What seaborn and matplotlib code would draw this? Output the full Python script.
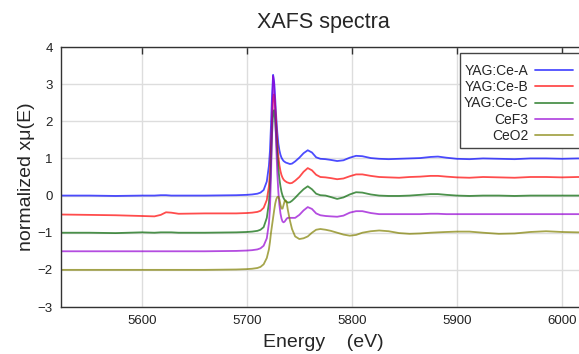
import pandas as pd
import numpy as np
import matplotlib
matplotlib.use("Agg")
import matplotlib.pyplot as plt
import matplotlib.patches as mpatches
import seaborn as sns

# energy grid (eV), shared by all spectra
energy = [5523, 5550, 5575, 5600, 5612, 5618, 5623, 5628, 5635, 5660, 5690, 5700,
          5705, 5710, 5713, 5716, 5719, 5721, 5722, 5723, 5724, 5725, 5726, 5727,
          5728, 5729, 5730, 5731, 5732, 5733, 5734, 5735, 5736, 5737, 5738, 5739,
          5741, 5743, 5746, 5750, 5754, 5758, 5762, 5766, 5770, 5775, 5780, 5786,
          5792, 5798, 5804, 5810, 5818, 5826, 5835, 5845, 5855, 5865, 5875, 5882,
          5890, 5900, 5912, 5925, 5940, 5955, 5970, 5985, 6000, 6015, 6023]

yag_a = [0.00, 0.00, -0.01, 0.00, 0.00, 0.01, 0.01, 0.00, 0.00, 0.00, 0.01, 0.02,
         0.03, 0.05, 0.08, 0.15, 0.38, 0.80, 1.20, 1.90, 2.70, 3.25, 3.05, 2.60,
         2.10, 1.70, 1.40, 1.22, 1.10, 1.02, 0.97, 0.93, 0.91, 0.89, 0.88, 0.87,
         0.85, 0.86, 0.92, 1.02, 1.14, 1.22, 1.16, 1.03, 0.99, 0.98, 0.96, 0.93,
         0.95, 1.02, 1.07, 1.06, 1.01, 0.99, 0.98, 0.99, 1.00, 1.01, 1.04, 1.05,
         1.02, 0.99, 0.98, 1.00, 0.99, 0.98, 1.00, 1.00, 0.99, 1.00, 1.00]

yag_b = [-0.51, -0.52, -0.53, -0.55, -0.56, -0.52, -0.45, -0.46, -0.49, -0.48, -0.48, -0.47,
         -0.46, -0.44, -0.41, -0.33, -0.12, 0.25, 0.60, 1.25, 2.05, 2.65, 2.72, 2.40,
         1.90, 1.40, 1.05, 0.82, 0.66, 0.55, 0.48, 0.43, 0.40, 0.38, 0.36, 0.35,
         0.33, 0.34, 0.40, 0.50, 0.64, 0.74, 0.68, 0.56, 0.50, 0.49, 0.47, 0.44,
         0.46, 0.52, 0.57, 0.57, 0.53, 0.50, 0.49, 0.48, 0.50, 0.51, 0.53, 0.53,
         0.51, 0.49, 0.48, 0.50, 0.49, 0.48, 0.50, 0.50, 0.49, 0.50, 0.50]

yag_c = [-1.00, -1.00, -1.01, -0.99, -1.00, -0.99, -0.99, -0.99, -1.00, -1.00, -0.99, -0.98,
         -0.97, -0.95, -0.92, -0.85, -0.60, -0.20, 0.20, 0.85, 1.65, 2.25, 2.30, 2.00,
         1.55, 1.10, 0.72, 0.45, 0.25, 0.10, 0.00, -0.07, -0.12, -0.15, -0.17, -0.19,
         -0.18, -0.14, -0.06, 0.06, 0.17, 0.25, 0.17, 0.05, 0.01, 0.00, -0.04, -0.09,
         -0.05, 0.03, 0.09, 0.08, 0.03, 0.00, -0.01, -0.01, 0.00, 0.02, 0.04, 0.04,
         0.02, 0.00, -0.01, 0.00, 0.00, -0.01, 0.00, 0.00, 0.00, 0.00, 0.00]

cef3 = [-1.50, -1.50, -1.50, -1.50, -1.50, -1.50, -1.50, -1.50, -1.50, -1.50, -1.49, -1.48,
        -1.47, -1.45, -1.42, -1.35, -1.15, -0.75, -0.35, 0.50, 1.90, 3.22, 3.00, 2.20,
        1.30, 0.60, 0.10, -0.25, -0.48, -0.62, -0.70, -0.72, -0.70, -0.66, -0.62, -0.60,
        -0.60, -0.60, -0.60, -0.52, -0.40, -0.31, -0.36, -0.48, -0.53, -0.55, -0.56, -0.57,
        -0.54, -0.46, -0.42, -0.42, -0.47, -0.50, -0.50, -0.50, -0.50, -0.50, -0.49, -0.49,
        -0.50, -0.50, -0.50, -0.50, -0.50, -0.50, -0.50, -0.50, -0.50, -0.50, -0.50]

ceo2 = [-2.00, -2.00, -2.00, -2.00, -2.00, -2.00, -2.00, -2.00, -2.00, -2.00, -1.99, -1.98,
        -1.97, -1.95, -1.92, -1.85, -1.68, -1.45, -1.25, -1.00, -0.80, -0.60, -0.40, -0.22,
        -0.10, -0.04, -0.03, -0.10, -0.25, -0.35, -0.35, -0.25, -0.15, -0.13, -0.20, -0.38,
        -0.67, -0.90, -1.10, -1.17, -1.15, -1.10, -1.00, -0.92, -0.90, -0.92, -0.95, -1.00,
        -1.05, -1.08, -1.06, -1.00, -0.96, -0.94, -0.96, -1.01, -1.03, -1.02, -1.00, -0.99,
        -0.98, -0.97, -0.97, -1.00, -1.03, -1.02, -0.98, -0.96, -0.98, -0.99, -0.99]

labels = ["YAG:Ce-A", "YAG:Ce-B", "YAG:Ce-C", "CeF3", "CeO2"]
colors = ["#0000ff", "#ff0000", "#006400", "#9400d3", "#808000"]
x_ticks = [5600, 5700, 5800, 5900, 6000]
y_ticks = [-3, -2, -1, 0, 1, 2, 3, 4]

frames = []
for name, vals in zip(labels, [yag_a, yag_b, yag_c, cef3, ceo2]):
    frames.append(pd.DataFrame({"energy": energy, "mu": vals, "sample": name}))
df = pd.concat(frames, ignore_index=True)

sns.set_style("white")
plt.rcParams['font.family'] = ['Liberation Sans', 'DejaVu Sans']

W, H = 579, 354
fig = plt.figure(figsize=(W / 100, H / 100), dpi=100)
# axes run a little past the right edge, like the cropped original
ax = fig.add_axes([61 / W, 1 - 307 / H, 525 / W, 260 / H])

sns.lineplot(data=df, x="energy", y="mu", hue="sample", hue_order=labels,
             palette=dict(zip(labels, colors)), estimator=None, sort=False,
             linewidth=1.3, alpha=0.7, legend=False, ax=ax)

ax.set_xlim(5523, 6023)
ax.set_ylim(-3, 4)
ax.set_xticks(x_ticks)
ax.set_yticks(y_ticks)
ax.grid(True, color="#dddddd", linewidth=1)
ax.set_axisbelow(True)
for sp in ax.spines.values():
    sp.set_color("#333333")
    sp.set_linewidth(1)
ax.tick_params(direction="in", length=5, width=1, color="#333333",
               top=True, right=True, labelsize=9.5, labelcolor="#222222", pad=6)

ax.set_title("XAFS spectra", fontsize=15.5, pad=14)
ax.set_xlabel("Energy    (eV)", fontsize=14, labelpad=5)
ax.set_ylabel("normalized xμ(E)", fontsize=14, labelpad=2)

# legend box (square frame, runs off the right edge)
box = mpatches.Rectangle((460 / W, 1 - 148 / H), 140 / W, 95 / H,
                         transform=fig.transFigure, facecolor="white",
                         edgecolor="#444444", linewidth=1, clip_on=False, zorder=4)
ax.add_patch(box)

handles = ax.get_lines()[:5]
leg = ax.legend(handles, labels, loc="upper left",
                bbox_to_anchor=(464 / W, 1 - 64 / H), bbox_transform=fig.transFigure,
                borderaxespad=0, borderpad=0, markerfirst=False, fontsize=10,
                handlelength=2.75, handletextpad=0.45, labelspacing=0.16,
                frameon=False)
leg.set_zorder(5)

fig.savefig("out.png", dpi=100)
